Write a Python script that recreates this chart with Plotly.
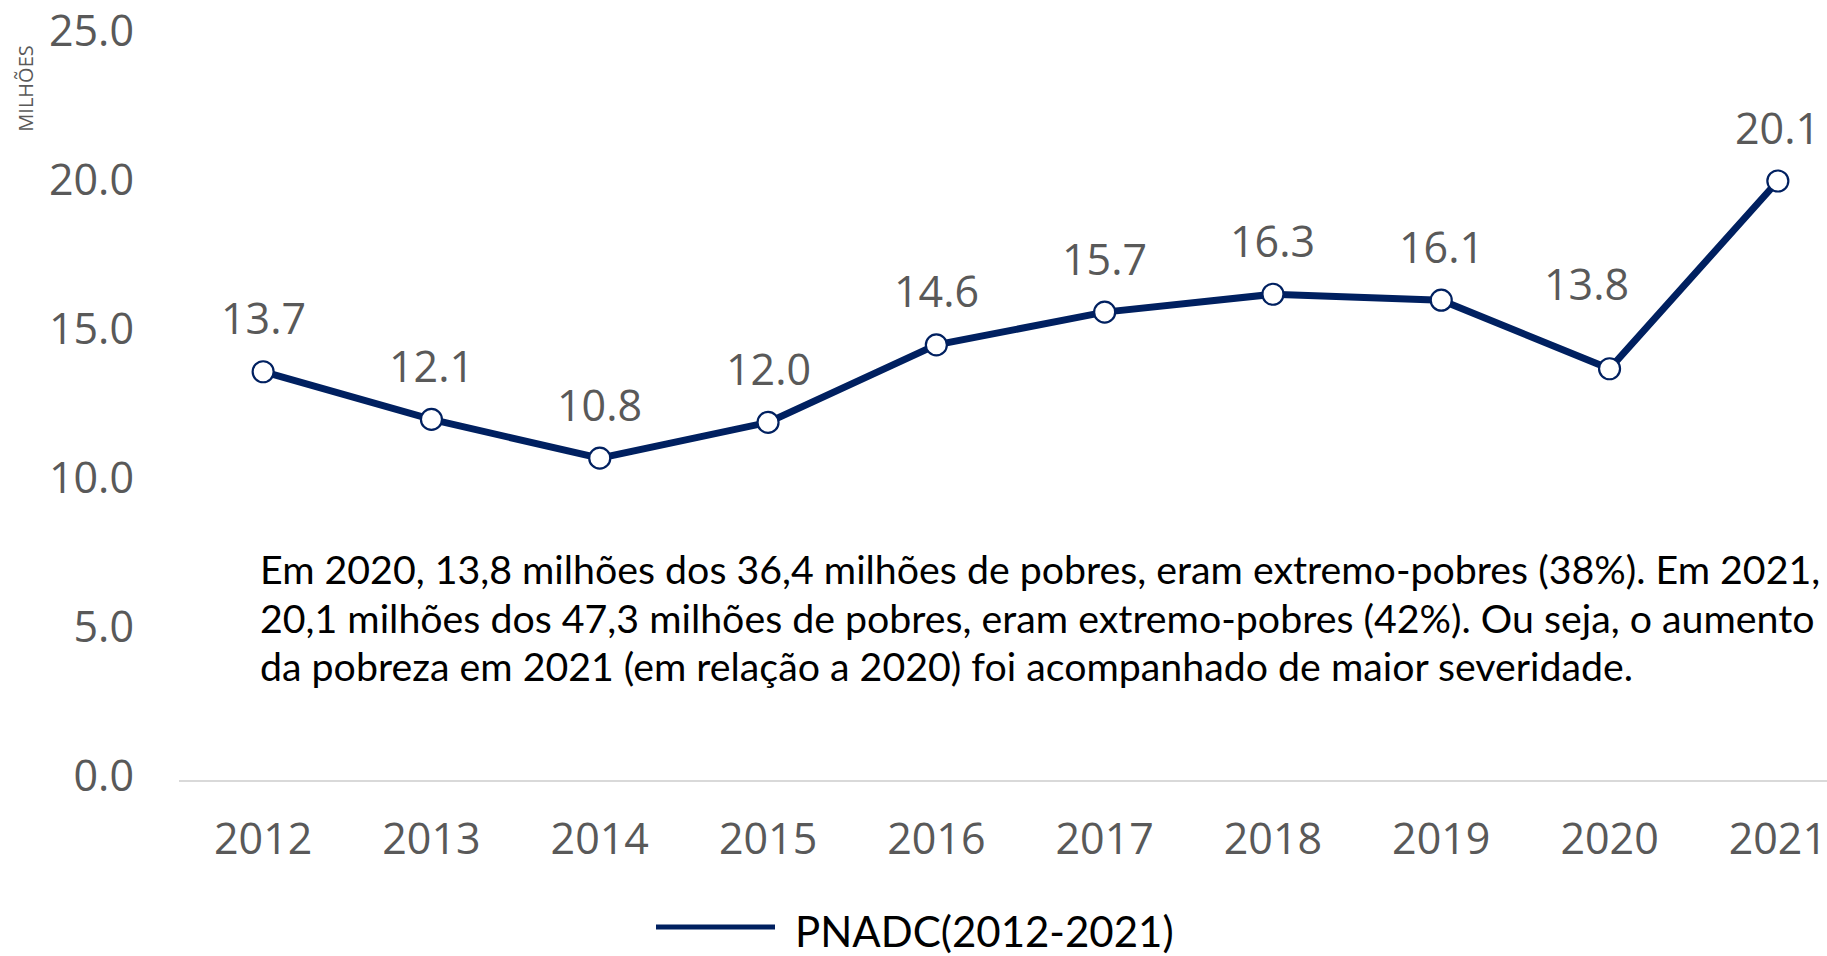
import plotly.graph_objects as go

years = ["2012", "2013", "2014", "2015", "2016", "2017", "2018", "2019", "2020", "2021"]
values = [13.7, 12.1, 10.8, 12.0, 14.6, 15.7, 16.3, 16.1, 13.8, 20.1]
y_ticks = [0, 5, 10, 15, 20, 25]
series_name = "PNADC(2012-2021)"
y_title = "MILHÕES"
note_lines = [
    "Em 2020, 13,8 milhões dos 36,4 milhões de pobres, eram extremo-pobres (38%). Em 2021,",
    "20,1 milhões dos 47,3 milhões de pobres, eram extremo-pobres (42%). Ou seja, o aumento",
    "da pobreza em 2021 (em relação a 2020) foi acompanhado de maior severidade.",
]

NAVY = "#002060"
GRAY = "#595959"
W, H = 1827, 956
L, T = 179, 30
PLOT_BOTTOM = 780
B = H - PLOT_BOTTOM
R = 0
PW, PH = W - L - R, H - T - B


def px(xpage):
    return (xpage - L) / PW


def py(ypage):
    return (PLOT_BOTTOM - ypage) / PH


fig = go.Figure()
fig.add_trace(go.Scatter(
    x=years, y=values, mode="lines+markers", name=series_name,
    line=dict(color=NAVY, width=7),
    marker=dict(size=21, color="white", line=dict(color=NAVY, width=2.2)),
    showlegend=False,
))

# data labels (category index positions); the 2020 label sits up-left of its point
for i, v in enumerate(values):
    moved = years[i] == "2020"
    fig.add_annotation(x=i, y=v, text=f"{v:.1f}", showarrow=False,
                       yshift=85 if moved else 54, xshift=-23 if moved else 0,
                       xanchor="center", yanchor="middle",
                       font=dict(family="Open Sans", size=43, color=GRAY))

# note text lines
for i, line in enumerate(note_lines):
    ypage = 567 + i * 49
    fig.add_annotation(xref="paper", yref="paper",
                       x=px(258), y=py(ypage),
                       text=line, showarrow=False, xanchor="left", yanchor="middle",
                       align="left",
                       font=dict(family="Lato", size=39.3, color="black"))

# y-axis title
fig.add_annotation(xref="paper", yref="paper", x=px(26), y=py(84),
                   text=y_title, showarrow=False, textangle=-90,
                   xanchor="center", yanchor="middle",
                   font=dict(family="Open Sans", size=20, color=GRAY))

# custom legend
fig.add_shape(type="line", xref="paper", yref="paper",
              x0=px(656), x1=px(775), y0=py(928), y1=py(928),
              line=dict(color=NAVY, width=5))
fig.add_annotation(xref="paper", yref="paper", x=px(793), y=py(932),
                   text=series_name, showarrow=False, xanchor="left", yanchor="middle",
                   font=dict(family="Lato", size=42, color="black"))

n_cat_visible = PW / 168.3
fig.update_layout(
    width=W, height=H,
    margin=dict(l=L, r=R, t=T, b=B, pad=0),
    paper_bgcolor="white", plot_bgcolor="white",
    showlegend=False,
    xaxis=dict(type="category", range=[-0.5, -0.5 + n_cat_visible],
               showgrid=False, zeroline=False, showline=True,
               linecolor="#d9d9d9", linewidth=2, ticks="",
               tickfont=dict(family="Open Sans", size=43, color=GRAY),
               ticklabelstandoff=20, ticklabeloverflow="allow"),
    yaxis=dict(range=[0, 25], tickvals=y_ticks, tickformat=".1f",
               showgrid=False, zeroline=False, showline=False, ticks="",
               tickfont=dict(family="Open Sans", size=43, color=GRAY),
               ticklabelstandoff=44, ticklabelshift=-4, ticklabeloverflow="allow"),
)

fig.write_html("out.html",
               config={"displayModeBar": False},
               post_script="document.body.style.margin='0';document.body.style.overflow='hidden';")
